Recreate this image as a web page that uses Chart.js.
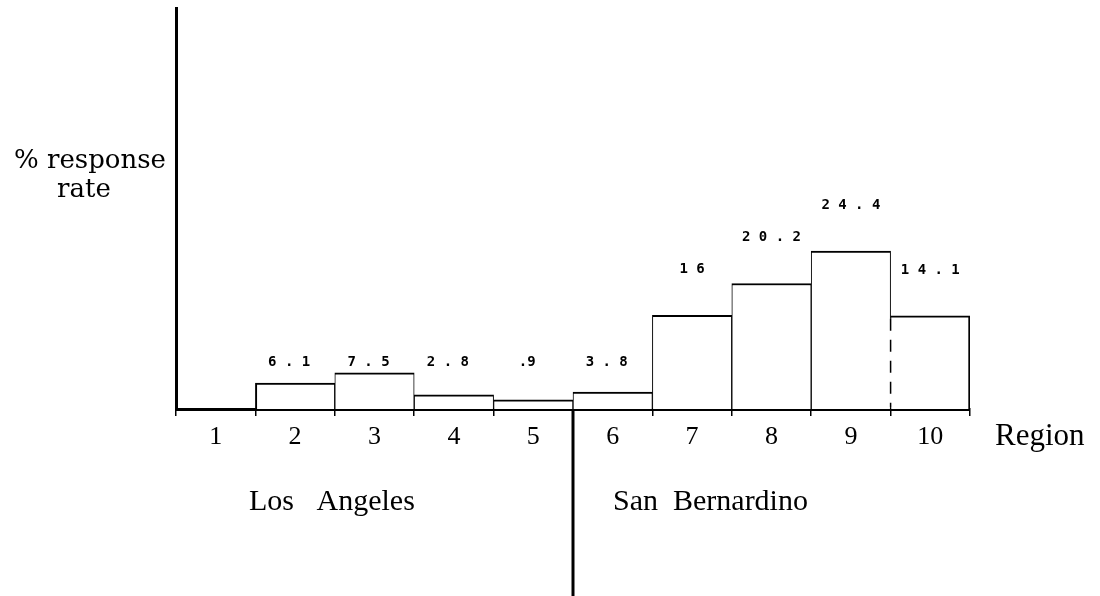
<!DOCTYPE html>
<html>
<head>
<meta charset="utf-8">
<script src="https://cdn.jsdelivr.net/npm/chart.js@4.4.0/dist/chart.umd.min.js"></script>
<style>
  html, body { margin: 0; padding: 0; background: #fff; }
  #wrap { width: 1100px; height: 596px; }
</style>
</head>
<body>
<div id="wrap"><canvas id="regionChart" width="1100" height="596"></canvas></div>
<script>
// regions along the x axis
const regions = ['1', '2', '3', '4', '5', '6', '7', '8', '9', '10'];
// % response rate as printed above each bar (region 1 has none)
const printedRates = [null, '6.1', '7.5', '2.8', '.9', '3.8', '16', '20.2', '24.4', '14.1'];
// bar heights as they are drawn in the original (hand drawn, not quite to scale)
const drawnHeights = [null, 4.0, 5.6, 2.2, 1.4, 2.6, 14.5, 19.4, 24.4, 14.4];
const yMax = 62;
const countyNames = ['Los   Angeles', 'San  Bernardino'];

function spaced(s) {
    return s.startsWith('.') ? s : s.split('').join(' ');
}

const annotations = {
    id: 'annotations',
    afterDatasetsDraw(chart) {
        const ctx = chart.ctx;
        const bars = chart.getDatasetMeta(0).data;
        const base = chart.scales.y.getPixelForValue(0);
        ctx.save();
        ctx.fillStyle = '#000';
        ctx.strokeStyle = '#000';

        // printed values over the bars
        ctx.font = 'bold 14px "DejaVu Sans Mono"';
        ctx.textAlign = 'center';
        ctx.textBaseline = 'middle';
        bars.forEach((bar, i) => {
            const txt = printedRates[i];
            if (!txt) return;
            // the low ones sit on one line, the tall ones float over their bar
            const tall = drawnHeights[i] > 10;
            const y = tall ? bar.y - 46 : base - 47;
            ctx.fillText(spaced(txt), tall ? bar.x : bar.x - 6, y);
        });

        // left edge of region 10 is dashed below its top
        const b10 = bars[9];
        const xEdge = b10.x - b10.width / 2;
        ctx.strokeStyle = '#fff';
        ctx.lineWidth = 3;
        ctx.beginPath();
        ctx.moveTo(xEdge, b10.y + 3);
        ctx.lineTo(xEdge, base - 2);
        ctx.stroke();
        ctx.strokeStyle = '#000';
        ctx.lineWidth = 1.5;
        ctx.setLineDash([12, 9]);
        ctx.beginPath();
        ctx.moveTo(xEdge, b10.y + 3);
        ctx.lineTo(xEdge, base - 2);
        ctx.stroke();
        ctx.setLineDash([]);

        // county divider between regions 5 and 6
        const b6 = bars[5];
        const xDiv = b6.x - b6.width / 2;
        ctx.lineWidth = 3;
        ctx.beginPath();
        ctx.moveTo(xDiv, base);
        ctx.lineTo(xDiv, chart.height);
        ctx.stroke();

        // axis titles and county names
        ctx.textBaseline = 'alphabetic';
        ctx.font = '26px "DejaVu Serif"';
        ctx.fillText('% response', 90, 168);
        ctx.fillText('rate', 84, 197);

        ctx.textAlign = 'left';
        ctx.font = '31px "Liberation Serif"';
        ctx.fillText('Region', 995, 445);
        ctx.font = '30px "Liberation Serif"';
        ctx.fillText(countyNames[0], 249, 510);
        ctx.fillText(countyNames[1], 613, 510);
        ctx.restore();
    }
};

new Chart(document.getElementById('regionChart'), {
    type: 'bar',
    data: {
        labels: regions,
        datasets: [{
            data: drawnHeights,
            backgroundColor: '#fff',
            borderColor: '#000',
            borderSkipped: false,
            borderWidth: (c) => {
                const i = c.dataIndex;
                return {
                    top: 2,
                    bottom: 0,
                    left: drawnHeights[i - 1] ? 1 : 2,
                    right: i === drawnHeights.length - 1 ? 2 : 1
                };
            },
            barPercentage: 1,
            categoryPercentage: 1
        }]
    },
    options: {
        responsive: false,
        animation: false,
        layout: { padding: { left: 176, right: 130, top: 8, bottom: 0 } },
        plugins: {
            legend: { display: false },
            tooltip: { enabled: false }
        },
        scales: {
            x: {
                type: 'category',
                offset: true,
                grid: {
                    display: true,
                    drawOnChartArea: false,
                    drawTicks: true,
                    tickLength: 7,
                    color: '#000',
                    lineWidth: 1.5,
                    offset: true
                },
                border: { display: true, color: '#000', width: 3 },
                ticks: {
                    color: '#000',
                    font: { family: 'Liberation Serif', size: 26 },
                    padding: 6,
                    maxRotation: 0,
                    autoSkip: false
                },
                afterFit: (s) => { s.height = 596 - 409; }
            },
            y: {
                min: 0,
                max: yMax,
                ticks: { display: false },
                grid: { display: false },
                border: { display: true, color: '#000', width: 3 },
                afterFit: (s) => { s.width = 0; }
            }
        }
    },
    plugins: [annotations]
});
</script>
</body>
</html>
